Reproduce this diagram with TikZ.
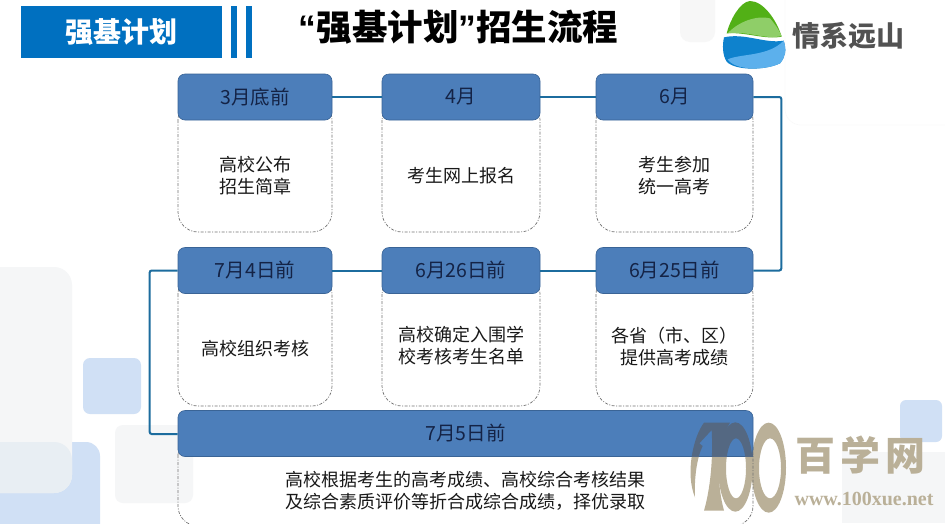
\documentclass[tikz,border=0pt]{standalone}
\usepackage{fontspec}
\setmainfont{Noto Sans CJK SC}
\newfontfamily\wmserif{Liberation Serif}
\newfontfamily\qsans{Liberation Sans}
\usetikzlibrary{calc}
\definecolor{hdr}{RGB}{76,126,186}
\definecolor{hdrline}{RGB}{58,100,150}
\definecolor{conn}{RGB}{28,108,158}
\definecolor{barblue}{RGB}{0,112,192}
\definecolor{bggray}{RGB}{245,246,247}
\definecolor{bgblue}{RGB}{208,224,245}
\definecolor{bgmix}{RGB}{232,238,243}
\definecolor{tan}{RGB}{186,176,152}
\definecolor{tandark}{RGB}{84,104,130}
\definecolor{hdrtext}{RGB}{20,35,70}
\definecolor{lgreen}{RGB}{82,176,22}
\definecolor{lgreenb}{RGB}{143,206,104}
\definecolor{lblue}{RGB}{14,130,205}
\definecolor{lblueb}{RGB}{92,176,236}
\tikzset{
 x=1pt,y=-1pt,
 header/.style={rounded corners=7pt,fill=hdr,draw=hdrline,line width=.6pt,text=hdrtext,font=\fontsize{19.5}{22}\selectfont,minimum height=46pt,inner sep=0pt},
 dashbox/.style={rounded corners=20pt,draw=black!55,line width=.7pt,dash pattern=on 3pt off 1.5pt on 1pt off 1.5pt},
 lbl/.style={font=\fontsize{18}{22}\selectfont,align=center,text=black!90,inner sep=0pt},
 conline/.style={draw=conn,line width=2pt,rounded corners=2pt},
 bgbox/.style={rounded corners=#1},
 bgbox/.default=8pt
}
\newcommand{\wmfill}[1]{%
 \begin{scope}[shift={(680,410)},scale=1/3]
 \fill[#1] (72,38) .. controls (40,80) and (15,190) .. (45,262) .. controls (42,200) and (52,140) .. (68,108) -- (58,100) -- (95,60) .. controls (100,150) and (90,240) .. (72,302) -- (132,302) .. controls (112,230) and (105,110) .. (150,38) -- cycle;
 \fill[#1,even odd rule] (166,171) ellipse [x radius=52,y radius=134] (168,175) ellipse [x radius=30,y radius=90];
 \fill[#1,even odd rule] (266,173) ellipse [x radius=52,y radius=135] (270,175) ellipse [x radius=33,y radius=90];
 \end{scope}}
\begin{document}
\begin{tikzpicture}
\useasboundingbox (0,0) rectangle (945,523);
\clip (0,0) rectangle (945,523);
\fill[white] (0,0) rectangle (945,523);
% background squares
\fill[bgblue,bgbox=14pt] (-30,442) rectangle (100,560);
\fill[bggray,bgbox=18pt] (-30,267) rectangle (72,493);
\fill[bgmix,rounded corners=18pt] (-30,442) -- (72,442) -- (72,493) -- (-30,493) -- cycle;
\fill[bgblue,bgbox=7pt] (83,358) rectangle (141,414);
\fill[bggray,bgbox=8pt] (115,425) rectangle (193,503);
\fill[bgblue,bgbox=6pt] (900,400) rectangle (942,442);
\fill[bggray] (842,452) rectangle (945,523);
\draw[black!3,rounded corners=16pt] (785,-20) rectangle (960,125);
\fill[black!3,rounded corners=10pt] (680,-20) rectangle (715,42);
% title bar
\node[fill=barblue,minimum width=201pt,minimum height=52pt,inner sep=0pt,text=white,font=\fontsize{28}{30}\selectfont\bfseries] (bar) at (121.5,32) {强基计划};
\node[fill=barblue,minimum width=6pt,minimum height=52pt,inner sep=0pt] (s1) at (234,32) {};
\node[fill=barblue,minimum width=6pt,minimum height=52pt,inner sep=0pt] (s2) at (249,32) {};
\node[font=\fontsize{35.5}{38}\selectfont\bfseries,inner sep=0pt,text=black] (title) at (458.5,27) {{\qsans “}强基计划{\qsans ”}招生流程};
% logo
\begin{scope}[shift={(715,0)},scale=1/3]
 \fill[lgreen] (105,3) .. controls (75,5) and (45,60) .. (35,100) .. controls (90,95) and (150,120) .. (200,110) .. controls (185,60) and (145,3) .. (105,3) -- cycle;
 \fill[lgreenb] (38,100) .. controls (70,65) and (125,45) .. (165,55) .. controls (180,72) and (192,90) .. (200,108) .. controls (150,120) and (100,92) .. (38,100) -- cycle;
 \fill[lblue] (27,112) .. controls (90,98) and (150,132) .. (206,122) .. controls (215,150) and (212,170) .. (195,190) .. controls (150,212) and (60,212) .. (35,185) .. controls (22,165) and (22,135) .. (27,112) -- cycle;
 \fill[lblueb] (38,178) .. controls (80,160) and (160,170) .. (206,122) .. controls (215,150) and (212,170) .. (195,190) .. controls (150,212) and (60,212) .. (38,178) -- cycle;
\end{scope}
\node[font=\fontsize{28}{30}\selectfont\bfseries,text=black!68,inner sep=0pt] (logotext) at (848,36) {情系远山};
% watermark under the dashed lines
\wmfill{tan}
% dashed lower boxes
\draw[dashbox] (178,100) rectangle (332,232);
\draw[dashbox] (382,100) rectangle (540,232);
\draw[dashbox] (596,100) rectangle (753,232);
\draw[dashbox] (178,274) rectangle (332,406);
\draw[dashbox] (382,274) rectangle (540,406);
\draw[dashbox] (596,274) rectangle (753,406);
\draw[dashbox] (178,435) rectangle (753,526);
% headers
\node[header,minimum width=154pt] (a) at (255,97) {3月底前};
\node[header,minimum width=158pt] (b) at (461,97) {4月};
\node[header,minimum width=157pt] (c) at (674.5,97) {6月};
\node[header,minimum width=154pt] (f) at (255,270.5) {7月4日前};
\node[header,minimum width=158pt] (e) at (461,270.5) {6月26日前};
\node[header,minimum width=157pt] (d) at (674.5,270.5) {6月25日前};
\node[header,minimum width=575pt] (g) at (465.5,433.5) {7月5日前};
% connectors
\draw[conline] (a) -- (b);
\draw[conline] (b) -- (c);
\draw[conline] (c.east) -- ++(28,0) |- (d.east);
\draw[conline] (d) -- (e);
\draw[conline] (e) -- (f);
\draw[conline] (f.west) -- ++(-28,0) |- (g.west |- 0,434);
% labels
\node[lbl] (la) at (255,176) {高校公布\\招生简章};
\node[lbl] (lb) at (461,176) {考生网上报名};
\node[lbl] (lc) at (674.5,176) {考生参加\\统一高考};
\node[lbl] (lf) at (255,349) {高校组织考核};
\node[lbl] (le) at (461,346) {高校确定入围学\\校考核考生名单};
\node[lbl] (ld) at (674.5,347) {各省（市、区）\\提供高考成绩};
\node[lbl] (lg) at (465.5,491) {高校根据考生的高考成绩、高校综合考核结果\\及综合素质评价等折合成综合成绩，择优录取};
% watermark over the bar
\begin{scope}
 \clip (178,411) rectangle (753,456);
 \wmfill{tandark}
\end{scope}
\node[font=\fontsize{40}{44}\selectfont\bfseries,text=tan,inner sep=0pt] (wm1) at (860,455) {百\hspace{5pt}学\hspace{5pt}网};
\node[font=\wmserif\bfseries\fontsize{20}{22}\selectfont,text=tan,inner sep=0pt] (wm2) at (864,499) {www.100xue.net};
\end{tikzpicture}
\end{document}
